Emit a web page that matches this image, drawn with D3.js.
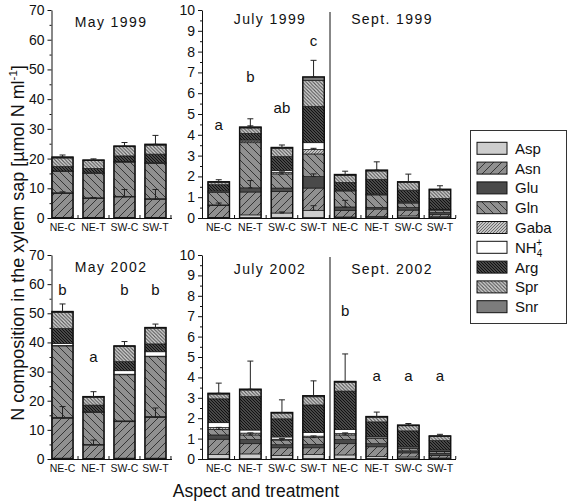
<!DOCTYPE html>
<html><head><meta charset="utf-8">
<script src="https://cdn.jsdelivr.net/npm/d3@7"></script>
<style>body{margin:0;background:#fff}svg{display:block}</style>
</head><body>
<script>
// ---------- DATA ----------
const components = ["Asp","Asn","Glu","Gln","Gaba","NH4","Arg","Spr","Snr"];
const treatments = ["NE-C","NE-T","SW-C","SW-T"];
const yTicksMay = [0,10,20,30,40,50,60,70];
const yTicksSummer = [0,1,2,3,4,5,6,7,8,9,10];

// component amounts [Asp, Asn, Glu, Gln, Gaba, NH4, Arg, Spr, Snr] per treatment
const may1999 = [
  [0.2, 8.1, 0.2, 7.1, 0.1, 0.1, 1.5, 2.9, 0.3],
  [0.2, 6.4, 0.2, 8.2, 0.1, 0.1, 1.5, 2.6, 0.2],
  [0.2, 6.9, 0.2, 11.5, 0.1, 0.1, 1.9, 3.1, 0.2],
  [0.2, 6.1, 0.2, 11.9, 0.1, 0.1, 2.9, 3.0, 0.3]
];
const july1999 = [
  [0.02, 0.58, 0.03, 0.6, 0.04, 0.03, 0.3, 0.12, 0.02],
  [0.15, 1.1, 0.2, 2.17, 0.08, 0.05, 0.32, 0.26, 0.04],
  [0.24, 1.04, 0.16, 0.68, 0.08, 0.08, 0.67, 0.39, 0.05],
  [0.37, 1.07, 0.55, 1.09, 0.22, 0.32, 1.75, 1.25, 0.16]
];
const sept1999 = [
  [0.05, 0.32, 0.16, 0.77, 0.02, 0.02, 0.37, 0.34, 0.04],
  [0.08, 0.35, 0.08, 0.6, 0.02, 0.02, 0.71, 0.4, 0.04],
  [0.1, 0.28, 0.12, 0.22, 0.03, 0.03, 0.56, 0.36, 0.04],
  [0.06, 0.12, 0.08, 0.12, 0.02, 0.02, 0.52, 0.4, 0.04]
];
const may2002 = [
  [0.3, 13.7, 0.3, 24.5, 0.2, 0.6, 5.2, 5.5, 0.3],
  [0.2, 4.6, 0.2, 11.0, 0.1, 0.1, 2.3, 2.7, 0.2],
  [0.3, 12.5, 0.3, 15.8, 0.2, 1.2, 3.1, 5.2, 0.2],
  [0.3, 14.0, 0.3, 20.5, 0.2, 1.5, 2.7, 5.4, 0.2]
];
const july2002 = [
  [0.22, 0.75, 0.21, 0.27, 0.1, 0.23, 1.17, 0.23, 0.04],
  [0.25, 0.5, 0.2, 0.23, 0.09, 0.15, 1.64, 0.32, 0.04],
  [0.18, 0.37, 0.15, 0.23, 0.04, 0.11, 0.89, 0.28, 0.03],
  [0.22, 0.33, 0.17, 0.33, 0.07, 0.18, 1.35, 0.4, 0.05]
];
const sept2002 = [
  [0.2, 0.55, 0.2, 0.23, 0.07, 0.2, 1.88, 0.42, 0.05],
  [0.12, 0.48, 0.15, 0.25, 0.04, 0.06, 0.72, 0.23, 0.03],
  [0.1, 0.2, 0.1, 0.12, 0.03, 0.05, 0.78, 0.25, 0.03],
  [0.05, 0.13, 0.1, 0.08, 0.03, 0.05, 0.46, 0.2, 0.03]
];

// standard errors drawn on top of each component (0 = none); last column = total
const may1999Err = [
  [0, 0.5, 0, 0, 0, 0, 0, 0, 0.7],
  [0, 0.3, 0, 0, 0, 0, 0, 0, 0.4],
  [0, 2.5, 0, 0, 0, 0, 0, 0, 1.2],
  [0, 3.3, 0, 0, 0, 0, 0, 0, 3.0]
];
const july1999Err = [
  [0, 0.12, 0, 0, 0, 0, 0, 0, 0.1],
  [0, 0, 0.35, 0, 0, 0, 0, 0.1, 0.4],
  [0.05, 0, 0, 0.1, 0, 0, 0, 0, 0.12],
  [0.22, 0, 0.13, 0, 0.05, 0, 0, 0, 0.8]
];
const sept1999Err = [
  [0, 0, 0.32, 0, 0, 0, 0, 0, 0.16],
  [0, 0, 0, 0, 0, 0, 0, 0, 0.4],
  [0, 0, 0, 0, 0, 0, 0, 0, 0.37],
  [0, 0, 0, 0, 0, 0, 0, 0, 0.17]
];
const may2002Err = [
  [0, 4.0, 0, 0, 0, 0, 0, 0, 2.6],
  [0, 1.7, 0, 0, 0, 0, 0, 0, 1.7],
  [0, 0, 0, 0, 0, 0, 0, 0, 1.5],
  [0, 3.2, 0, 0, 0, 0, 0, 0, 1.2]
];
const july2002Err = [
  [0, 0, 0, 0.1, 0, 0, 0, 0, 0.5],
  [0, 0, 0, 0.1, 0, 0, 0, 0, 1.38],
  [0, 0, 0, 0.08, 0, 0, 0, 0, 0.62],
  [0, 0, 0, 0.08, 0, 0, 0, 0, 0.73]
];
const sept2002Err = [
  [0, 0, 0, 0.1, 0, 0, 0, 0, 1.35],
  [0, 0, 0, 0, 0, 0, 0, 0, 0.22],
  [0, 0, 0, 0, 0, 0, 0, 0, 0.08],
  [0, 0, 0, 0, 0, 0, 0, 0, 0.08]
];

// significance letters and the data level at which they sit
const july1999Letters = ["a","b","ab","c"];
const july1999LetterLevel = [4.5, 6.8, 5.3, 8.5];
const may2002Letters = ["b","a","b","b"];
const may2002LetterLevel = [58, 35, 58, 58];
const sept2002Letters = ["b","a","a","a"];
const sept2002LetterLevel = [7.25, 4.1, 4.1, 4.1];

const legendLabels = ["Asp","Asn","Glu","Gln","Gaba","NH4","Arg","Spr","Snr"];

// ---------- DRAWING ----------
const W = 568, H = 502;
const FONT = "'Liberation Sans', Arial, Helvetica, sans-serif";
const svg = d3.select("body").append("svg").attr("width", W).attr("height", H)
  .attr("font-family", FONT);
svg.append("rect").attr("width", W).attr("height", H).attr("fill", "#fff");
const defs = svg.append("defs");

function hatch(id, bg, dir, s, color, sw) {
  const p = defs.append("pattern").attr("id", id).attr("patternUnits", "userSpaceOnUse")
    .attr("width", s).attr("height", s);
  p.append("rect").attr("width", s).attr("height", s).attr("fill", bg);
  const d = dir === "/"
    ? `M-1,1 l2,-2 M0,${s} l${s},-${s} M${s-1},${s+1} l2,-2`
    : `M-1,${s-1} l2,2 M0,0 l${s},${s} M${s-1},-1 l2,2`;
  p.append("path").attr("d", d).attr("stroke", color).attr("stroke-width", sw).attr("fill", "none");
}
hatch("pAsn", "#909090", "/", 8, "#2a2a2a", 0.9);
hatch("pGln", "#909090", "\\", 8, "#2a2a2a", 0.9);
hatch("pGaba", "#c4c4c4", "/", 3, "#555", 0.8);
hatch("pArg", "#484848", "\\", 3, "#111", 1);
hatch("pSpr", "#d8d8d8", "\\", 3.5, "#555", 1.1);

const fills = {
  Asp: "#cdcdcd", Asn: "url(#pAsn)", Glu: "#4a4a4a", Gln: "url(#pGln)",
  Gaba: "url(#pGaba)", NH4: "#ffffff", Arg: "url(#pArg)", Spr: "url(#pSpr)", Snr: "#7c7c7c"
};

function toRows(vals) {
  return vals.map((v, i) => {
    const o = { t: treatments[i] };
    components.forEach((c, j) => o[c] = v[j]);
    return o;
  });
}

function drawAxes(g, y, x0, x1, ticks, minorStep, topY, botY) {
  const maxV = ticks[ticks.length - 1];
  const minor = d3.range(0, maxV + 1e-9, minorStep).filter(v => !ticks.includes(v));
  const ax = g.append("g").attr("transform", `translate(${x0},0)`)
    .call(d3.axisLeft(y).tickValues(ticks).tickSize(4).tickSizeOuter(0).tickPadding(3).tickFormat(d3.format("d")));
  ax.selectAll("text").attr("font-size", 14).attr("font-family", FONT).attr("fill", "#111");
  ax.selectAll("line,path").attr("stroke", "#111");
  const mi = g.append("g").attr("transform", `translate(${x0},0)`)
    .call(d3.axisLeft(y).tickValues(minor).tickSize(2).tickSizeOuter(0).tickFormat(""));
  mi.select(".domain").remove();
  mi.selectAll("line").attr("stroke", "#111");
  g.append("line").attr("x1", x0).attr("x2", x1).attr("y1", botY + 0.5).attr("y2", botY + 0.5)
    .attr("stroke", "#111").attr("stroke-width", 1.2);
}

function drawGroup(g, x, y, keyPrefix, vals, errs, letters, letterLevels) {
  const rows = toRows(vals);
  const series = d3.stack().keys(components)(rows);
  const bw = x.bandwidth();
  series.forEach((s, ci) => {
    g.selectAll(null).data(s).enter().append("rect")
      .attr("x", (d, i) => x(keyPrefix + treatments[i]))
      .attr("width", bw)
      .attr("y", d => y(d[1]))
      .attr("height", d => Math.max(0, y(d[0]) - y(d[1])))
      .attr("fill", fills[s.key])
      .attr("stroke", "#1a1a1a").attr("stroke-width", 0.7);
  });
  const tops = series[series.length - 1];
  g.selectAll(null).data(tops).enter().append("rect")
    .attr("x", (d, i) => x(keyPrefix + treatments[i]))
    .attr("width", bw)
    .attr("y", d => y(d[1]))
    .attr("height", d => y(0) - y(d[1]))
    .attr("fill", "none").attr("stroke", "#111").attr("stroke-width", 1.4);
  treatments.forEach((t, i) => {
    const cx = x(keyPrefix + t) + bw / 2;
    series.forEach((s, ci) => {
      const e = errs[i][ci];
      if (!e) return;
      const top = s[i][1];
      g.append("line").attr("x1", cx).attr("x2", cx).attr("y1", y(top)).attr("y2", y(top + e))
        .attr("stroke", "#222").attr("stroke-width", 1);
      g.append("line").attr("x1", cx - 3).attr("x2", cx + 3).attr("y1", y(top + e)).attr("y2", y(top + e))
        .attr("stroke", "#222").attr("stroke-width", 1);
      g.append("line").attr("x1", cx - 2).attr("x2", cx + 2).attr("y1", y(top)).attr("y2", y(top))
        .attr("stroke", "#222").attr("stroke-width", 1);
    });
    if (letters) {
      g.append("text").attr("x", cx).attr("y", y(letterLevels[i])).attr("dy", "0.35em")
        .attr("text-anchor", "middle").attr("font-size", 15).attr("fill", "#111").text(letters[i]);
    }
  });
  treatments.forEach((t, i) => {
    const cx = x(keyPrefix + t) + bw / 2;
    g.append("text").attr("x", cx).attr("y", y(0) + 13).attr("text-anchor", "middle")
      .attr("font-size", 10.5).attr("fill", "#111").text(t);
    const tx = x(keyPrefix + t) + bw + (x.step() - bw) / 2;
    g.append("line").attr("x1", tx).attr("x2", tx).attr("y1", y(0)).attr("y2", y(0) - 3)
      .attr("stroke", "#111");
  });
}

function title(g, txt, x, yb) {
  g.append("text").attr("x", x).attr("y", yb).attr("text-anchor", "middle")
    .attr("font-size", 14).attr("letter-spacing", 1.4).attr("fill", "#111").text(txt);
}

const rowsLayout = [
  { top: 10, bot: 218, may: may1999, mayErr: may1999Err, jul: july1999, julErr: july1999Err,
    sep: sept1999, sepErr: sept1999Err, names: ["May 1999", "July 1999", "Sept. 1999"],
    mayL: null, julL: [july1999Letters, july1999LetterLevel], sepL: null, titleY: [26.5, 24, 24] },
  { top: 255, bot: 459, may: may2002, mayErr: may2002Err, jul: july2002, julErr: july2002Err,
    sep: sept2002, sepErr: sept2002Err, names: ["May 2002", "July 2002", "Sept. 2002"],
    mayL: [may2002Letters, may2002LetterLevel], julL: null, sepL: [sept2002Letters, sept2002LetterLevel], titleY: [272, 274, 274] }
];

rowsLayout.forEach(R => {
  const g = svg.append("g");
  const yL = d3.scaleLinear().domain([0, 70]).range([R.bot, R.top]);
  const xL = d3.scaleBand().domain(treatments.map(t => "M" + t)).range([52, 166]).paddingInner(0.32).paddingOuter(0);
  drawAxes(g, yL, 51.5, 172, yTicksMay, 5, R.top, R.bot);
  drawGroup(g, xL, yL, "M", R.may, R.mayErr, R.mayL ? R.mayL[0] : null, R.mayL ? R.mayL[1] : null);
  title(g, R.names[0], 111, R.titleY[0]);

  const yR = d3.scaleLinear().domain([0, 10]).range([R.bot, R.top]);
  const dom = treatments.map(t => "J" + t).concat(treatments.map(t => "S" + t));
  const xR = d3.scaleBand().domain(dom).range([208, 450.7]).paddingInner(0.32).paddingOuter(0);
  drawAxes(g, yR, 202, 456, yTicksSummer, 0.5, R.top, R.bot);
  g.append("line").attr("x1", 330).attr("x2", 330).attr("y1", R.top + 2).attr("y2", R.bot)
    .attr("stroke", "#111").attr("stroke-width", 1);
  drawGroup(g, xR, yR, "J", R.jul, R.julErr, R.julL ? R.julL[0] : null, R.julL ? R.julL[1] : null);
  drawGroup(g, xR, yR, "S", R.sep, R.sepErr, R.sepL ? R.sepL[0] : null, R.sepL ? R.sepL[1] : null);
  title(g, R.names[1], 270, R.titleY[1]);
  title(g, R.names[2], 392, R.titleY[2]);
});

svg.append("text").attr("transform", "translate(24,243) rotate(-90)").attr("text-anchor", "middle")
  .attr("font-size", 18).attr("fill", "#111")
  .call(t => {
    t.append("tspan").text("N composition in the xylem sap [µmol N ml");
    t.append("tspan").attr("font-size", 11.5).attr("dy", -7).text("-1");
    t.append("tspan").attr("dy", 7).text("]");
  });
svg.append("text").attr("x", 256).attr("y", 497).attr("text-anchor", "middle")
  .attr("font-size", 17.5).attr("fill", "#111").text("Aspect and treatment");

const lg = svg.append("g");
lg.append("rect").attr("x", 470.5).attr("y", 130.5).attr("width", 96).attr("height", 193)
  .attr("fill", "#fff").attr("stroke", "#333").attr("stroke-width", 1);
const ly = d3.scalePoint().domain(legendLabels).range([148.3, 306.7]);
legendLabels.forEach((k, i) => {
  lg.append("rect").attr("x", 477).attr("y", ly(k) - 6).attr("width", 30).attr("height", 12)
    .attr("fill", fills[components[i]]).attr("stroke", "#111").attr("stroke-width", 1);
  const t = lg.append("text").attr("x", 515).attr("y", ly(k) + 5.5).attr("font-size", 15).attr("fill", "#111");
  if (k === "NH4") {
    t.append("tspan").text("NH");
    t.append("tspan").attr("font-size", 10).attr("dy", 4).text("4");
    t.append("tspan").attr("font-size", 10).attr("dx", -6).attr("dy", -11).text("+");
  } else t.text(k);
});
</script>
</body></html>
